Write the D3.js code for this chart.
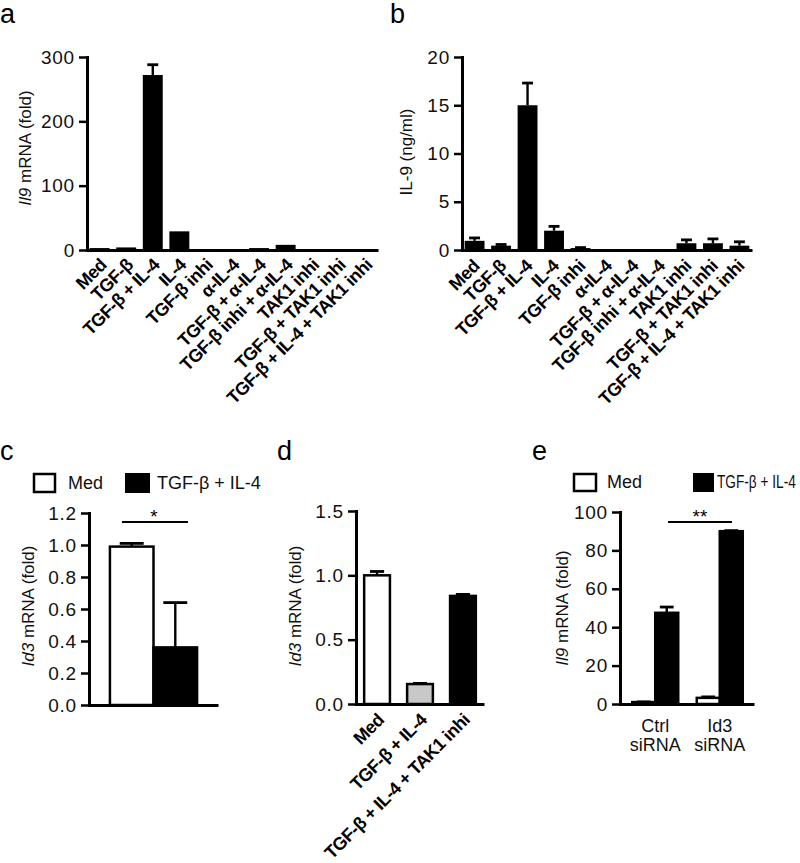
<!DOCTYPE html>
<html><head><meta charset="utf-8">
<script src="https://cdn.jsdelivr.net/npm/d3@7"></script>
<style>
body{margin:0;background:#fff}
svg{font-family:Arial,"Liberation Sans",Helvetica,sans-serif}
</style>
</head><body>
<svg id="fig" width="800" height="863"></svg>
<script>
// ---------- data ----------
const categoriesAB = ["Med","TGF-β","TGF-β + IL-4","IL-4","TGF-β inhi","α-IL-4","TGF-β + α-IL-4","TGF-β inhi + α-IL-4","TAK1 inhi","TGF-β + TAK1 inhi","TGF-β + IL-4 + TAK1 inhi"];
const il9mRNA      = [3, 4, 272, 29, 0, 0, 3, 8, 0, 0, 0];
const il9mRNAErr   = [0, 0, 16, 0, 0, 0, 0, 0, 0, 0, 0];
const il9Protein    = [0.95, 0.45, 15.0, 2.0, 0.2, 0, 0, 0, 0.7, 0.7, 0.45];
const il9ProteinErr = [0.3, 0.12, 2.3, 0.45, 0.05, 0, 0, 0, 0.35, 0.45, 0.4];
const ticksA = [0, 100, 200, 300];
const ticksB = [0, 5, 10, 15, 20];

const seriesC = ["Med", "TGF-β + IL-4"];
const id3ValuesC = [0.99, 0.36];
const id3ErrC    = [0.02, 0.28];
const ticksC = [0, 0.2, 0.4, 0.6, 0.8, 1.0, 1.2];

const categoriesD = ["Med", "TGF-β + IL-4", "TGF-β + IL-4 + TAK1 inhi"];
const id3ValuesD = [1.0, 0.155, 0.84];
const id3ErrD    = [0.03, 0.005, 0.012];
const ticksD = [0, 0.5, 1.0, 1.5];

const groupsE = [["Ctrl", "siRNA"], ["Id3", "siRNA"]];
const seriesE = ["Med", "TGF-β + IL-4"];
const il9MedE    = [1.0, 3.2];
const il9MedErrE = [0.1, 0.5];
const il9TgfE    = [47.5, 90.0];
const il9TgfErrE = [3.0, 0.3];
const ticksE = [0, 20, 40, 60, 80, 100];

// ---------- helpers ----------
const svg = d3.select("#fig");
const AX_W = 3;

function yAxis(g, y, x0, ticks, fmt) {
  const ax = g.append("g").attr("transform", `translate(${x0},0)`)
    .call(d3.axisLeft(y).tickValues(ticks).tickFormat(fmt).tickSize(8).tickSizeOuter(0).tickPadding(4));
  ax.select(".domain").attr("stroke-width", AX_W).attr("stroke-linecap", "square");
  ax.selectAll(".tick line").attr("stroke-width", 2.5);
  ax.selectAll(".tick text").attr("font-size", 19).attr("letter-spacing", "0.8px").attr("fill", "#111")
    .attr("font-family", "Arial, 'Liberation Sans', sans-serif");
  return ax;
}
function xAxisLine(g, xs, y0) {
  const ax = g.append("g").attr("transform", `translate(0,${y0})`)
    .call(d3.axisBottom(xs).tickSize(0).tickSizeOuter(0).tickFormat(""));
  ax.select(".domain").attr("stroke-width", AX_W);
  return ax;
}
function errBar(g, cx, yTop, yErr, cw) {
  g.append("line").attr("x1", cx).attr("x2", cx).attr("y1", yTop).attr("y2", yErr)
    .attr("stroke", "#000").attr("stroke-width", 2.4);
  g.append("line").attr("x1", cx - cw / 2).attr("x2", cx + cw / 2).attr("y1", yErr).attr("y2", yErr)
    .attr("stroke", "#000").attr("stroke-width", 2.8);
}
function yTitle(g, x, yc, parts) {
  const t = g.append("text").attr("transform", `translate(${x},${yc}) rotate(-90)`)
    .attr("text-anchor", "middle").attr("font-size", 17).attr("fill", "#111");
  parts.forEach(p => t.append("tspan").text(p[0]).attr("font-style", p[1] ? "italic" : "normal"));
}
function letter(txt, x, y) {
  svg.append("text").attr("x", x).attr("y", y).attr("font-size", 27).attr("fill", "#000").text(txt);
}
function rotLabels(g, cats, xs, dx, y0) {
  g.selectAll("text.xl").data(cats).join("text").attr("class", "xl")
    .attr("transform", d => `translate(${xs(d) + xs.bandwidth() / 2 + dx},${y0}) rotate(-45)`)
    .attr("text-anchor", "end").attr("font-weight", "bold").attr("font-size", 18)
    .attr("letter-spacing", "-0.5px").attr("fill", "#000")
    .text(d => d);
}

// ---------- panel a ----------
{
  const g = svg.append("g");
  const x = d3.scaleBand().domain(categoriesAB).range([87, 378]).paddingInner(0.25).paddingOuter(0.1);
  const y = d3.scaleLinear().domain([0, 300]).range([250, 57]);
  categoriesAB.forEach((c, i) => {
    const v = il9mRNA[i];
    if (v > 0) g.append("rect").attr("x", x(c)).attr("y", y(v)).attr("width", x.bandwidth())
      .attr("height", y(0) - y(v)).attr("fill", "#000");
    if (il9mRNAErr[i] > 0) errBar(g, x(c) + x.bandwidth() / 2, y(v), y(v + il9mRNAErr[i]), x.bandwidth() * 0.55);
  });
  xAxisLine(g, x, 250);
  yAxis(g, y, 87, ticksA, d3.format("d"));
  yTitle(g, 31, 148, [["Il9", true], [" mRNA (fold)", false]]);
  rotLabels(g, categoriesAB, x, 8, 266);
  letter("a", 0, 23);
}

// ---------- panel b ----------
{
  const g = svg.append("g");
  const x = d3.scaleBand().domain(categoriesAB).range([462, 752]).paddingInner(0.25).paddingOuter(0.1);
  const y = d3.scaleLinear().domain([0, 20]).range([250, 57]);
  categoriesAB.forEach((c, i) => {
    const v = il9Protein[i];
    if (v > 0) g.append("rect").attr("x", x(c)).attr("y", y(v)).attr("width", x.bandwidth())
      .attr("height", y(0) - y(v)).attr("fill", "#000");
    if (il9ProteinErr[i] > 0) errBar(g, x(c) + x.bandwidth() / 2, y(v), y(v + il9ProteinErr[i]), x.bandwidth() * 0.55);
  });
  xAxisLine(g, x, 250);
  yAxis(g, y, 462, ticksB, d3.format("d"));
  yTitle(g, 412, 152, [["IL-9 (ng/ml)", false]]);
  rotLabels(g, categoriesAB, x, 6, 267);
  letter("b", 390, 23);
}

// ---------- panel c ----------
{
  const g = svg.append("g");
  const x0 = d3.scaleBand().domain(["grp"]).range([89, 218]).paddingOuter(0.24);
  const x1 = d3.scaleBand().domain(seriesC).range([0, x0.bandwidth()]);
  const y = d3.scaleLinear().domain([0, 1.2]).range([705, 513]);
  const fills = ["#fff", "#000"];
  seriesC.forEach((s, i) => {
    const v = id3ValuesC[i];
    const bx = x0("grp") + x1(s);
    g.append("rect").attr("x", bx).attr("y", y(v)).attr("width", x1.bandwidth())
      .attr("height", y(0) - y(v)).attr("fill", fills[i]).attr("stroke", "#000").attr("stroke-width", 2.5);
    errBar(g, bx + x1.bandwidth() / 2, y(v), y(v + id3ErrC[i]), x1.bandwidth() * 0.55);
  });
  xAxisLine(g, x0, 705);
  yAxis(g, y, 89, ticksC, d3.format(".1f"));
  yTitle(g, 34, 606, [["Id3", true], [" mRNA (fold)", false]]);
  // significance
  g.append("line").attr("x1", 122).attr("x2", 188).attr("y1", 522).attr("y2", 522).attr("stroke", "#000").attr("stroke-width", 2);
  g.append("text").attr("x", 154).attr("y", 523).attr("text-anchor", "middle").attr("font-size", 19).text("*");
  // legend
  g.append("rect").attr("x", 34).attr("y", 474).attr("width", 21).attr("height", 18).attr("fill", "#fff").attr("stroke", "#000").attr("stroke-width", 2.5);
  g.append("text").attr("x", 68).attr("y", 489).attr("font-size", 18).attr("fill", "#111").text(seriesC[0]);
  g.append("rect").attr("x", 125).attr("y", 473).attr("width", 25).attr("height", 20).attr("fill", "#000");
  g.append("text").attr("x", 157).attr("y", 489).attr("font-size", 18).attr("fill", "#111").text(seriesC[1]);
  letter("c", 0, 460);
}

// ---------- panel d ----------
{
  const g = svg.append("g");
  const x = d3.scaleBand().domain(categoriesD).range([356, 484]).paddingInner(0.4).paddingOuter(0.19);
  const y = d3.scaleLinear().domain([0, 1.5]).range([704, 511]);
  const fills = ["#fff", "#c8c8c8", "#000"];
  categoriesD.forEach((c, i) => {
    const v = id3ValuesD[i];
    g.append("rect").attr("x", x(c)).attr("y", y(v)).attr("width", x.bandwidth())
      .attr("height", y(0) - y(v)).attr("fill", fills[i]).attr("stroke", "#000").attr("stroke-width", 2.5);
    errBar(g, x(c) + x.bandwidth() / 2, y(v), y(v + id3ErrD[i]), x.bandwidth() * 0.55);
  });
  xAxisLine(g, x, 704);
  yAxis(g, y, 356, ticksD, d3.format(".1f"));
  yTitle(g, 301, 606, [["Id3", true], [" mRNA (fold)", false]]);
  rotLabels(g, categoriesD, x, 8, 721);
  letter("d", 277, 460);
}

// ---------- panel e ----------
{
  const g = svg.append("g");
  const groupNames = groupsE.map(d => d.join(" "));
  const x0 = d3.scaleBand().domain(groupNames).range([621, 754]).paddingInner(0.287).paddingOuter(0.174);
  const x1 = d3.scaleBand().domain(seriesE).range([0, x0.bandwidth()]);
  const y = d3.scaleLinear().domain([0, 100]).range([704, 512]);
  const fills = ["#fff", "#000"];
  const vals = [il9MedE, il9TgfE], errs = [il9MedErrE, il9TgfErrE];
  groupNames.forEach((gn, gi) => {
    seriesE.forEach((s, si) => {
      const v = vals[si][gi];
      const bx = x0(gn) + x1(s);
      g.append("rect").attr("x", bx).attr("y", y(v)).attr("width", x1.bandwidth())
        .attr("height", y(0) - y(v)).attr("fill", fills[si]).attr("stroke", "#000").attr("stroke-width", 2.5);
      errBar(g, bx + x1.bandwidth() / 2, y(v), y(v + errs[si][gi]), x1.bandwidth() * 0.6);
    });
    const t = g.append("text").attr("text-anchor", "middle").attr("font-size", 18).attr("fill", "#111");
    t.append("tspan").attr("x", x0(gn) + x0.bandwidth() / 2).attr("y", 732).text(groupsE[gi][0]);
    t.append("tspan").attr("x", x0(gn) + x0.bandwidth() / 2).attr("y", 751).text(groupsE[gi][1]);
  });
  xAxisLine(g, x0, 704);
  yAxis(g, y, 620, ticksE, d3.format("d"));
  yTitle(g, 568, 608, [["Il9", true], [" mRNA (fold)", false]]);
  g.append("line").attr("x1", 668).attr("x2", 732).attr("y1", 522).attr("y2", 522).attr("stroke", "#000").attr("stroke-width", 2);
  g.append("text").attr("x", 700).attr("y", 523).attr("text-anchor", "middle").attr("font-size", 19).text("**");
  g.append("rect").attr("x", 574).attr("y", 474).attr("width", 22).attr("height", 17).attr("fill", "#fff").attr("stroke", "#000").attr("stroke-width", 2.5);
  g.append("text").attr("x", 607).attr("y", 488).attr("font-size", 18).attr("fill", "#111").text(seriesE[0]);
  g.append("rect").attr("x", 693).attr("y", 473).attr("width", 21).attr("height", 19).attr("fill", "#000");
  g.append("text").attr("transform", "translate(717,488) scale(0.76,1)").attr("font-size", 18).attr("fill", "#111")
    .text(seriesE[1]);
  letter("e", 532, 460);
}
</script>
</body></html>
